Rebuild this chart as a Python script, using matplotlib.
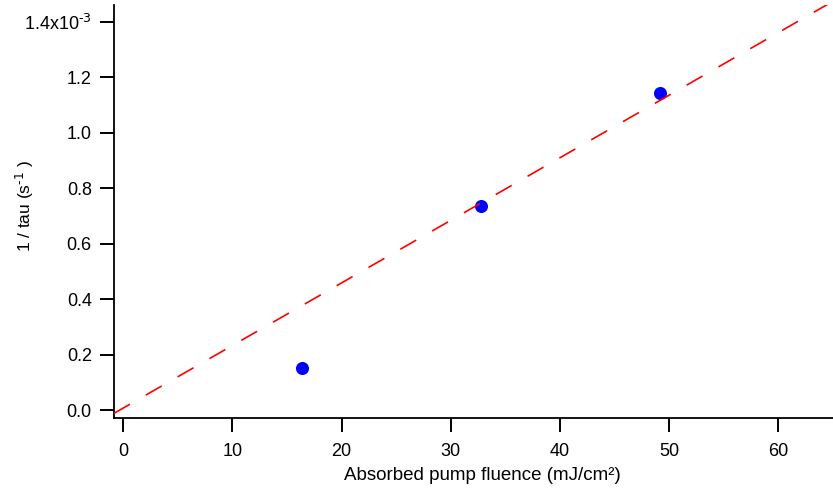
import numpy as np
import matplotlib.pyplot as plt
from matplotlib.ticker import FixedLocator, FuncFormatter

plt.rcParams.update({'font.family': ['Liberation Sans', 'DejaVu Sans'],
                     'mathtext.default': 'regular',
                     'font.size': 13,
                     'axes.linewidth': 1.3,
                     'xtick.major.size': 10, 'ytick.major.size': 10,
                     'xtick.major.width': 1.4, 'ytick.major.width': 1.4,
                     'xtick.major.pad': 8, 'ytick.major.pad': 6})

# measured points (1/tau in units of 1e-3 s^-1)
fluence = [16.4, 32.8, 49.2]
inv_tau = [0.154, 0.736, 1.143]

# linear fit
slope = 0.02256
intercept = 0.008

xlim = (-0.85, 65.0)
ylim = (-0.028, 1.462)
yticks = [0.0, 0.2, 0.4, 0.6, 0.8, 1.0, 1.2, 1.4]
xticks = [0, 10, 20, 30, 40, 50, 60]

fig = plt.figure(figsize=(8.33, 4.9), dpi=100)
ax = fig.add_axes([114/833, 72/490, 1 - 114/833, (418 - 4.7)/490])

ax.plot(fluence, inv_tau, 'o', color='#0000ff', ms=9.4, mew=0, zorder=2)
xf = np.array(xlim)
ax.plot(xf, intercept + slope*xf, color='#ff0000', lw=1.2,
        dashes=(11, 11), zorder=3)

ax.set_xlim(*xlim)
ax.set_ylim(*ylim)
ax.xaxis.set_major_locator(FixedLocator(xticks))
ax.yaxis.set_major_locator(FixedLocator(yticks))

def yfmt(v, pos):
    if abs(v - 1.4) < 1e-6:
        return r'1.4x10$^{\text{-3}}$'
    return '%.1f' % v
ax.yaxis.set_major_formatter(FuncFormatter(yfmt))

for s in ['top', 'right']:
    ax.spines[s].set_visible(False)
ax.tick_params(direction='out')

ax.set_xlabel('Absorbed pump fluence (mJ/cm²)', fontsize=13.5)
ax.set_ylabel(r'1 / tau (s$^{\text{-1}}$ )', fontsize=12.5)
ax.xaxis.set_label_coords(0.512, -0.118)
ax.yaxis.set_label_coords(-0.108, 0.513)

fig.savefig('out.png', dpi=100)
